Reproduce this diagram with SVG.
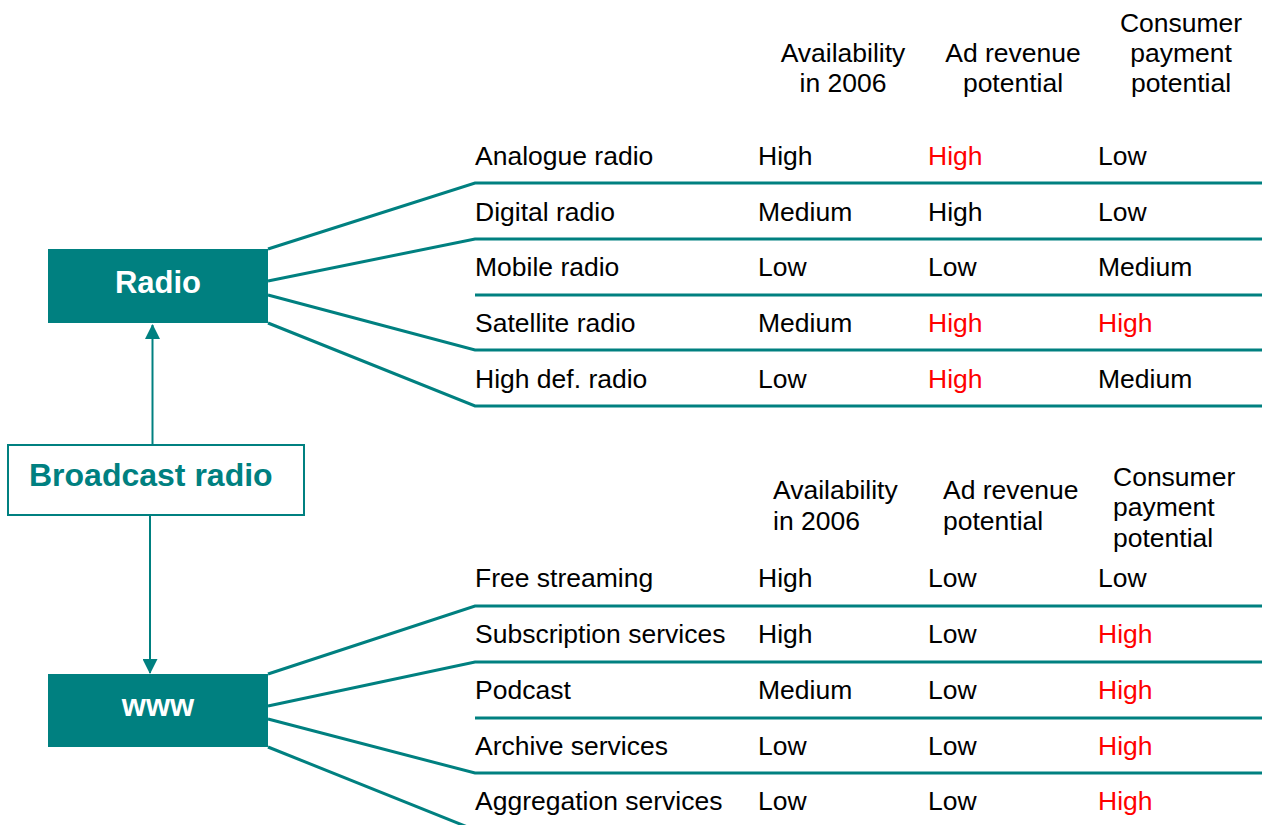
<svg xmlns="http://www.w3.org/2000/svg" width="1262" height="825" viewBox="0 0 1262 825">
<style>
text{font-family:"Liberation Sans",Arial,sans-serif;font-size:26.5px;fill:#000}
.red{fill:#FF0000}
.hdr{text-anchor:middle}
.box{fill:#008080}
.boxt{font-weight:bold;font-size:31px;fill:#fff;text-anchor:middle}
.bt{font-weight:bold;font-size:32px;fill:#008080}
.ln{stroke:#008080;stroke-width:3;fill:none}
.ar{stroke:#008080;stroke-width:2;fill:none}
</style>
<defs>
<marker id="ah" markerWidth="16" markerHeight="15" refX="15" refY="8" orient="auto" markerUnits="userSpaceOnUse" viewBox="0 0 16 16">
<path d="M0,0 L16,8 L0,16 Z" fill="#008080"/>
</marker>
</defs>
<rect width="1262" height="825" fill="#fff"/>
<g id="connectors">
<path class="ln" d="M268,249 L475,183 L1262,183"/>
<path class="ln" d="M268,281 L475,239 L1262,239"/>
<path class="ln" d="M475,295 L1262,295"/>
<path class="ln" d="M268,295 L475,350 L1262,350"/>
<path class="ln" d="M268,323 L475,406 L1262,406"/>
<path class="ln" d="M268,674 L475,606 L1262,606"/>
<path class="ln" d="M268,706 L475,662 L1262,662"/>
<path class="ln" d="M475,718 L1262,718"/>
<path class="ln" d="M268,719 L475,773 L1262,773"/>
<path class="ln" d="M268,747 L475,830"/>
<line class="ar" x1="152.5" y1="445" x2="152.5" y2="325" marker-end="url(#ah)"/>
<line class="ar" x1="150" y1="515" x2="150" y2="673" marker-end="url(#ah)"/>
</g>
<g id="radio">
<rect class="box" x="48" y="249" width="220" height="74"/>
<text class="boxt" x="158" y="293">Radio</text>
</g>
<g id="broadcast-radio">
<rect x="8" y="445" width="296" height="70" fill="#fff" stroke="#008080" stroke-width="2"/>
<text class="bt" x="29" y="486">Broadcast radio</text>
</g>
<g id="www">
<rect class="box" x="48" y="674" width="220" height="73"/>
<text class="boxt" x="158" y="716">www</text>
</g>
<g id="radio-table">
<text class="hdr" x="843" y="62">Availability</text>
<text class="hdr" x="843" y="92">in 2006</text>
<text class="hdr" x="1013" y="62">Ad revenue</text>
<text class="hdr" x="1013" y="92">potential</text>
<text class="hdr" x="1181" y="32">Consumer</text>
<text class="hdr" x="1181" y="62">payment</text>
<text class="hdr" x="1181" y="92">potential</text>
<text x="475" y="165">Analogue radio</text><text x="758" y="165">High</text><text class="red" x="928" y="165">High</text><text x="1098" y="165">Low</text>
<text x="475" y="221">Digital radio</text><text x="758" y="221">Medium</text><text x="928" y="221">High</text><text x="1098" y="221">Low</text>
<text x="475" y="276">Mobile radio</text><text x="758" y="276">Low</text><text x="928" y="276">Low</text><text x="1098" y="276">Medium</text>
<text x="475" y="332">Satellite radio</text><text x="758" y="332">Medium</text><text class="red" x="928" y="332">High</text><text class="red" x="1098" y="332">High</text>
<text x="475" y="388">High def. radio</text><text x="758" y="388">Low</text><text class="red" x="928" y="388">High</text><text x="1098" y="388">Medium</text>
</g>
<g id="www-table">
<text x="773" y="499">Availability</text>
<text x="773" y="530">in 2006</text>
<text x="943" y="499">Ad revenue</text>
<text x="943" y="530">potential</text>
<text x="1113" y="486">Consumer</text>
<text x="1113" y="516">payment</text>
<text x="1113" y="547">potential</text>
<text x="475" y="587">Free streaming</text><text x="758" y="587">High</text><text x="928" y="587">Low</text><text x="1098" y="587">Low</text>
<text x="475" y="643">Subscription services</text><text x="758" y="643">High</text><text x="928" y="643">Low</text><text class="red" x="1098" y="643">High</text>
<text x="475" y="699">Podcast</text><text x="758" y="699">Medium</text><text x="928" y="699">Low</text><text class="red" x="1098" y="699">High</text>
<text x="475" y="755">Archive services</text><text x="758" y="755">Low</text><text x="928" y="755">Low</text><text class="red" x="1098" y="755">High</text>
<text x="475" y="810">Aggregation services</text><text x="758" y="810">Low</text><text x="928" y="810">Low</text><text class="red" x="1098" y="810">High</text>
</g>
</svg>
